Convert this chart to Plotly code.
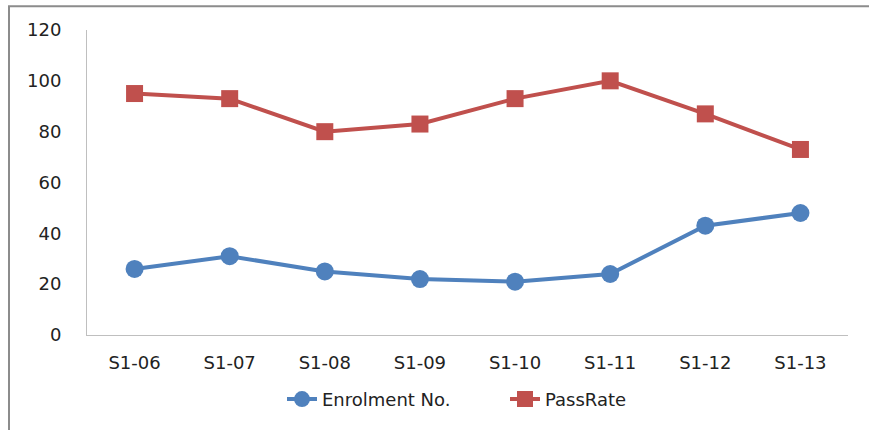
import plotly.graph_objects as go

categories = ["S1-06", "S1-07", "S1-08", "S1-09", "S1-10", "S1-11", "S1-12", "S1-13"]
enrolment = [26, 31, 25, 22, 21, 24, 43, 48]
pass_rate = [95, 93, 80, 83, 93, 100, 87, 73]
y_ticks = [0, 20, 40, 60, 80, 100, 120]

W, H = 869, 430
L, R, T, B = 87, 21, 30, 92
pw, ph = W - L - R, H - T - B

fig = go.Figure()
fig.add_trace(go.Scatter(
    x=categories, y=enrolment, name="Enrolment No.", mode="lines+markers",
    line=dict(color="#4F81BD", width=4),
    marker=dict(symbol="circle", size=18, color="#4F81BD"),
))
fig.add_trace(go.Scatter(
    x=categories, y=pass_rate, name="PassRate", mode="lines+markers",
    line=dict(color="#C0504D", width=4),
    marker=dict(symbol="square", size=17, color="#C0504D"),
))

def px(x):
    return (x - L) / pw

def py(y):
    return (H - B - y) / ph

fig.add_shape(type="rect", xref="paper", yref="paper",
              x0=px(9), x1=px(875), y0=py(6), y1=py(436),
              line=dict(color="#8c8c8c", width=2), fillcolor="rgba(0,0,0,0)", layer="below")

fig.update_layout(
    width=W, height=H,
    margin=dict(l=L, r=R, t=T, b=B),
    paper_bgcolor="white", plot_bgcolor="white",
    font=dict(family="DejaVu Sans, sans-serif", size=18, color="#222222"),
    showlegend=True,
    legend=dict(orientation="h", x=px(282), xanchor="left", y=py(403), yanchor="middle",
                font=dict(size=18), entrywidth=178, entrywidthmode="pixels"),
    xaxis=dict(type="category", range=[-0.5, 7.5], showgrid=False, showline=True,
               linecolor="#bfbfbf", linewidth=1, ticks="outside", ticklen=11,
               tickcolor="rgba(0,0,0,0)", fixedrange=True),
    yaxis=dict(range=[0, 120], tickvals=y_ticks, showgrid=False, showline=True,
               linecolor="#bfbfbf", linewidth=1, ticks="outside", ticklen=21,
               tickcolor="rgba(0,0,0,0)", zeroline=False, fixedrange=True),
)

fig.write_html("out.html")
